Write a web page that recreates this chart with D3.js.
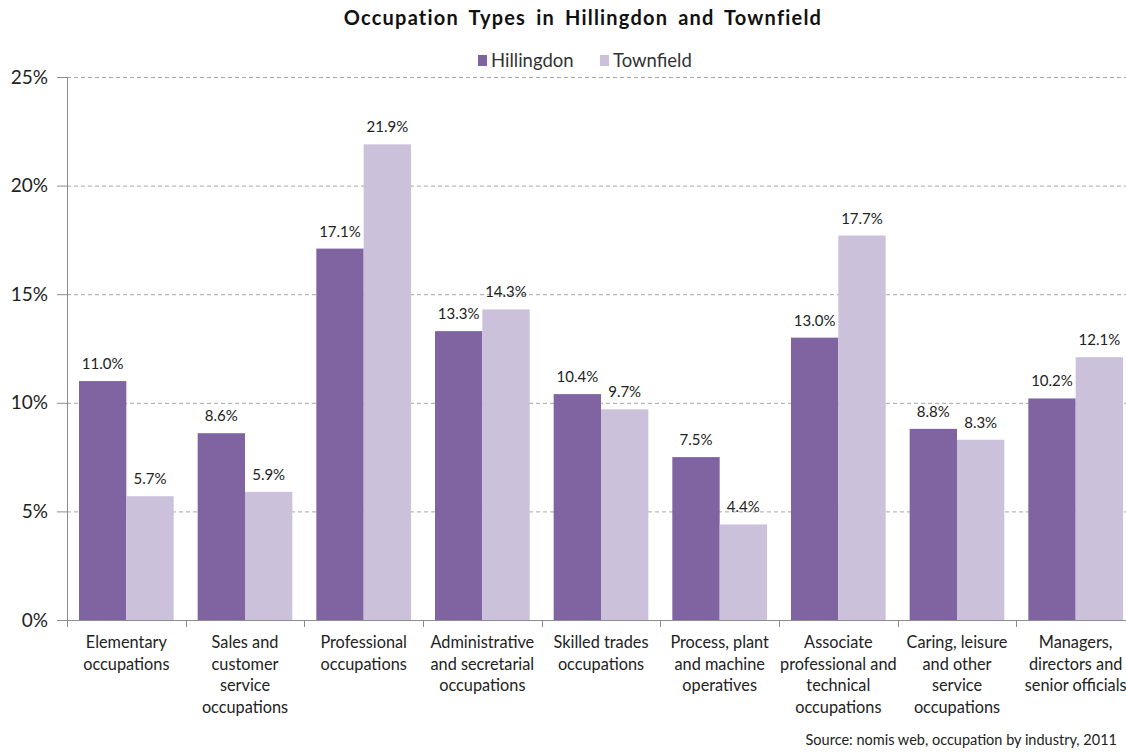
<!DOCTYPE html>
<html><head><meta charset="utf-8">
<script src="https://cdn.jsdelivr.net/npm/d3@7"></script>
<style>body{margin:0;background:#fff;} svg{display:block;} text{font-family:Lato,"Open Sans",sans-serif;}</style>
</head><body>
<svg id="c" width="1126" height="752"></svg>
<script>
const categories = [
  ["Elementary","occupations"],
  ["Sales and","customer","service","occupations"],
  ["Professional","occupations"],
  ["Administrative","and secretarial","occupations"],
  ["Skilled trades","occupations"],
  ["Process, plant","and machine","operatives"],
  ["Associate","professional and","technical","occupations"],
  ["Caring, leisure","and other","service","occupations"],
  ["Managers,","directors and","senior officials"]
];
const seriesNames = ["Hillingdon","Townfield"];
const hillingdon = [11.0, 8.6, 17.1, 13.3, 10.4, 7.5, 13.0, 8.8, 10.2];
const townfield = [5.7, 5.9, 21.9, 14.3, 9.7, 4.4, 17.7, 8.3, 12.1];
const yTicks = [0,5,10,15,20,25];
const colors = ["#8064A2","#CCC1DA"];

(function(){
const svg = d3.select("#c");
const mLeft = 67, mRight = 1135, mTop = 77, mBottom = 620;
const keys = categories.map((c,i)=>i);
const x0 = d3.scaleBand().domain(keys).range([mLeft,mRight]).paddingInner(0).paddingOuter(0);
const x1 = d3.scaleBand().domain([0,1]).range([12, x0.bandwidth()-12]).padding(0);
const y = d3.scaleLinear().domain([0,25]).range([mBottom,mTop]);

// gridlines
svg.append("g").selectAll("line").data(yTicks.filter(d=>d>0)).join("line")
  .attr("x1",mLeft).attr("x2",1126).attr("y1",d=>y(d)+0.5).attr("y2",d=>y(d)+0.5)
  .attr("stroke","#a6a6a6").attr("stroke-width",1).attr("stroke-dasharray","4,3");

// y axis
const yAxis = d3.axisLeft(y).tickValues(yTicks).tickFormat(d=>d+"%").tickSize(10).tickSizeOuter(0);
const gy = svg.append("g").attr("transform",`translate(${mLeft},0)`).call(yAxis);
gy.select(".domain").attr("stroke","#8c8c8c");
gy.selectAll(".tick line").attr("stroke","#8c8c8c");
gy.selectAll(".tick text").attr("x",-19).attr("font-size",19).attr("fill","#222").style("font-family","Lato,sans-serif");

// x axis
const xb = svg.append("g");
xb.append("line").attr("x1",mLeft).attr("x2",1126).attr("y1",mBottom+0.5).attr("y2",mBottom+0.5).attr("stroke","#8c8c8c");
xb.selectAll("line.t").data(d3.range(categories.length+1)).join("line").attr("class","t")
  .attr("x1",i=>Math.round(mLeft + i*x0.step())+0.5).attr("x2",i=>Math.round(mLeft + i*x0.step())+0.5)
  .attr("y1",mBottom).attr("y2",mBottom+7).attr("stroke","#8c8c8c");

// bars
const data = keys.map(i=>({i, v:[hillingdon[i], townfield[i]]}));
const groups = svg.append("g").selectAll("g").data(data).join("g")
  .attr("transform",d=>`translate(${x0(d.i)},0)`);
groups.selectAll("rect").data(d=>d.v.map((v,s)=>({v,s}))).join("rect")
  .attr("x",d=>x1(d.s)).attr("width",x1.bandwidth())
  .attr("y",d=>y(d.v)).attr("height",d=>mBottom-y(d.v))
  .attr("fill",d=>colors[d.s]);
groups.selectAll("text").data(d=>d.v.map((v,s)=>({v,s}))).join("text")
  .attr("x",d=>x1(d.s)+x1.bandwidth()/2).attr("y",d=>y(d.v)-12)
  .attr("text-anchor","middle").attr("font-size",15).attr("fill","#222")
  .text(d=>d.v.toFixed(1)+"%");

// category labels
const cl = svg.append("g").selectAll("text").data(categories).join("text")
  .attr("text-anchor","middle").attr("font-size",16.3).attr("fill","#222")
  .attr("x",(d,i)=>x0(i)+x0.bandwidth()/2).attr("y",648);
cl.selectAll("tspan").data(d=>d).join("tspan")
  .attr("x",function(){return this.parentNode.getAttribute("x");})
  .attr("dy",(d,j)=>j===0?0:21.5).text(d=>d);

// title
svg.append("text").attr("x",583).attr("y",25).attr("text-anchor","middle")
  .attr("font-size",20).attr("font-weight","bold").attr("fill","#111")
  .attr("letter-spacing",1.2).attr("word-spacing",4)
  .text("Occupation Types in Hillingdon and Townfield");

// legend
const lg = svg.append("g");
const lx = [478, 600];
seriesNames.forEach((n,s)=>{
  lg.append("rect").attr("x",lx[s]).attr("y",55).attr("width",9).attr("height",11).attr("fill",colors[s]);
  lg.append("text").attr("x",lx[s]+13).attr("y",67).attr("font-size",18.5).attr("fill","#333").text(n);
});

// source
svg.append("text").attr("x",1117).attr("y",745).attr("text-anchor","end")
  .attr("font-size",14.5).attr("fill","#222").text("Source: nomis web, occupation by industry, 2011");
})();
</script>
</body></html>
